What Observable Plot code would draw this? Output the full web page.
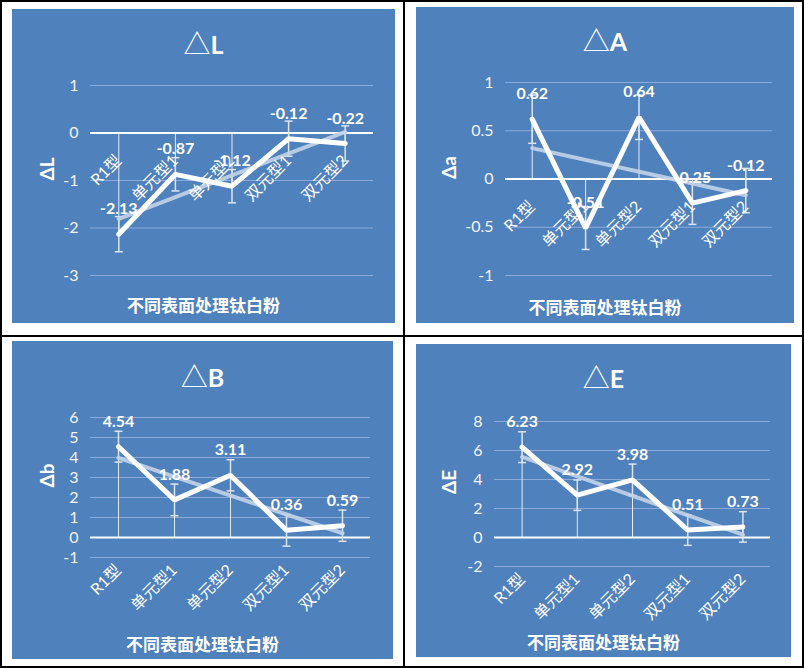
<!DOCTYPE html>
<html><head><meta charset="utf-8">
<script src="https://cdn.jsdelivr.net/npm/d3@7"></script>
<script src="https://cdn.jsdelivr.net/npm/@observablehq/plot@0.6"></script>
<style>
body{margin:0;background:#fff;}
#wrap{position:relative;width:804px;height:668px;overflow:hidden;font-family:Lato,"Noto Sans CJK SC",sans-serif;}
.ln{position:absolute;background:#000;}
.blue{position:absolute;background:#4F81BD;overflow:hidden;}
.blue svg{position:absolute;left:0;top:0;}
.title{position:absolute;left:0;right:0;text-align:center;color:#fff;font-weight:bold;font-size:25px;line-height:30px;z-index:2;}
.title .tri{font-family:"Noto Sans CJK SC",sans-serif;font-weight:normal;font-size:27px;}
.xtitle{position:absolute;left:0;right:0;text-align:center;color:#fff;font-weight:bold;font-size:17px;line-height:24px;font-family:"Noto Sans CJK SC",sans-serif;z-index:2;}
</style></head>
<body><div id="wrap"></div>
<script>
const categories = ["R1型","单元型1","单元型2","双元型1","双元型2"];
const xTitle = "不同表面处理钛白粉";

const titles = ["L","A","B","E"];
const yLabels = ["ΔL","Δa","Δb","ΔE"];

const valuesL = [-2.13,-0.87,-1.12,-0.12,-0.22];
const errorsL = [0.37,0.35,0.35,0.37,0.37];
const ticksL = [-3,-2,-1,0,1];

const valuesA = [0.62,-0.51,0.64,-0.25,-0.12];
const errorsA = [0.25,0.22,0.23,0.22,0.23];
const ticksA = [-1,-0.5,0,0.5,1];

const valuesB = [4.54,1.88,3.11,0.36,0.59];
const errorsB = [0.77,0.79,0.78,0.79,0.78];
const ticksB = [-1,0,1,2,3,4,5,6];

const valuesE = [6.23,2.92,3.98,0.51,0.73];
const errorsE = [1.06,1.05,1.08,1.05,1.05];
const ticksE = [-2,0,2,4,6,8];

const wrap = document.getElementById("wrap");

// frame lines
[[0,0,804,2],[0,666,804,2],[0,0,2,668],[802,0,2,668],[403,0,1.5,668],[0,335,804,1.5]].forEach(([x,y,w,h])=>{
  const d=document.createElement("div");d.className="ln";
  Object.assign(d.style,{left:x+"px",top:y+"px",width:w+"px",height:h+"px"});
  wrap.appendChild(d);
});

const cap = {draw(ctx){ctx.moveTo(-4,0);ctx.lineTo(4,0);}};

function panel(cfg){
  const box=document.createElement("div");box.className="blue";
  Object.assign(box.style,{left:cfg.left+"px",top:cfg.top+"px",width:cfg.w+"px",height:cfg.h+"px"});
  wrap.appendChild(box);
  const data = cfg.values.map((v,i)=>({i, v, e:cfg.errors[i], c:categories[i]}));
  const svg = Plot.plot({
    width:cfg.w, height:cfg.h,
    marginLeft:cfg.m[0], marginRight:cfg.m[1], marginTop:cfg.m[2], marginBottom:cfg.m[3],
    style:{background:"transparent",color:"#fff",fontFamily:'Lato,"Noto Sans CJK SC",sans-serif',fontSize:"16px",overflow:"visible"},
    x:{type:"linear",domain:[-0.5,4.5],axis:null},
    y:{domain:[cfg.ticks[0],cfg.ticks[cfg.ticks.length-1]]},
    marks:[
      Plot.ruleY(cfg.ticks,{stroke:"#8CAADA",strokeWidth:1}),
      Plot.axisY(cfg.ticks,{tickSize:0,tickPadding:12,label:null,fill:"#F2F2F2",fontSize:16,tickFormat:d=>String(d)}),
      Plot.ruleY([0],{stroke:"#fff",strokeWidth:2}),
      Plot.ruleX(data,{x:"i",y1:0,y2:"v",stroke:"#fff",strokeWidth:1,strokeOpacity:0.85}),
      Plot.ruleX(data,{x:"i",y1:d=>d.v-d.e,y2:d=>d.v+d.e,stroke:"#DCE4EF",strokeWidth:1.5}),
      Plot.dot(data,{x:"i",y:d=>d.v-d.e,symbol:cap,fill:"none",stroke:"#DCE4EF",strokeWidth:1.5}),
      Plot.dot(data,{x:"i",y:d=>d.v+d.e,symbol:cap,fill:"none",stroke:"#DCE4EF",strokeWidth:1.5}),
      Plot.linearRegressionY(data,{x:"i",y:"v",ci:0,stroke:"#C3D3E9",strokeWidth:4,strokeOpacity:0.9}),
      Plot.line(data,{x:"i",y:"v",stroke:"#fff",strokeWidth:5,strokeLinejoin:"miter"}),
      Plot.text(data,{x:"i",y:"v",text:d=>d.v.toFixed(2),dy:-25,fill:"#fff",fontWeight:"bold",fontSize:16}),
      Plot.text(data,{x:"i",y:()=>cfg.labelAt,text:"c",rotate:-45,textAnchor:"end",dx:0,dy:cfg.labelDy,fill:"#fff",fontSize:16,ariaLabel:"cat-labels"}),
      Plot.text([cfg.ylabel],{frameAnchor:"left",rotate:-90,dx:cfg.ylabelDx,fill:"#fff",fontWeight:"bold",fontSize:19})
    ]
  });
  svg.querySelectorAll('g[aria-label="cat-labels"] text').forEach(t=>t.setAttribute("letter-spacing","3"));
  box.appendChild(svg);
  const t=document.createElement("div");t.className="title";t.style.top=(cfg.titleY-15)+"px";
  t.innerHTML='<span class="tri">△</span>'+cfg.title;box.appendChild(t);
  const xt=document.createElement("div");xt.className="xtitle";xt.textContent=xTitle;xt.style.top=(cfg.xTitleY-12)+"px";box.appendChild(xt);
}

panel({left:12,top:9,w:383,h:314,m:[78,22,76,48],values:valuesL,errors:errorsL,ticks:ticksL,labelAt:0,labelDy:25,ylabel:yLabels[0],ylabelDx:-43,title:titles[0],titleY:34,xTitleY:296});
panel({left:416,top:7,w:378,h:316,m:[89,22,75,48],values:valuesA,errors:errorsA,ticks:ticksA,labelAt:0,labelDy:25,ylabel:yLabels[1],ylabelDx:-56,title:titles[1],titleY:33,xTitleY:300});
panel({left:12,top:341,w:381,h:318,m:[78,23,76,102],values:valuesB,errors:errorsB,ticks:ticksB,labelAt:-1,labelDy:10,ylabel:yLabels[2],ylabelDx:-43,title:titles[2],titleY:35,xTitleY:303});
panel({left:416,top:344,w:375,h:313,m:[78,21,77,91],values:valuesE,errors:errorsE,ticks:ticksE,labelAt:-2,labelDy:10,ylabel:yLabels[3],ylabelDx:-45,title:titles[3],titleY:33,xTitleY:298});
</script>
</body></html>
